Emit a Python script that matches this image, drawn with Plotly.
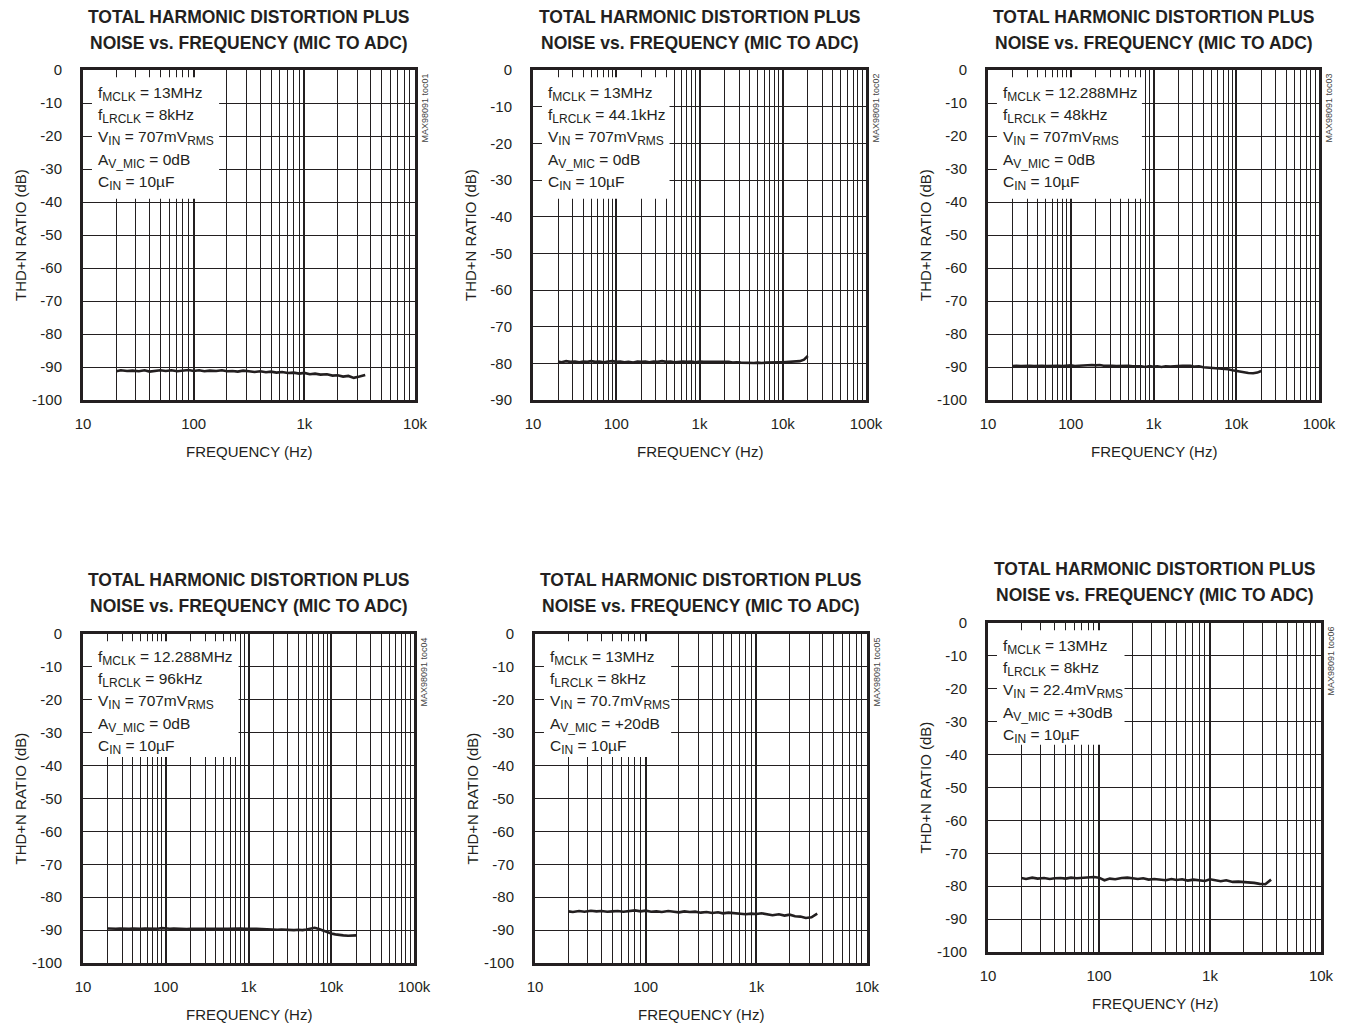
import math
import plotly.graph_objects as go

# ---------------- data ----------------
freq_a = [20, 22, 25, 28, 32, 36, 40, 45, 50, 56,
          63, 71, 80, 90, 100, 112, 125, 140, 160, 180,
          200, 224, 250, 280, 315, 355, 400, 450, 500, 560,
          630, 710, 800, 900, 1000, 1120, 1250, 1400, 1600, 1800,
          2000, 2240, 2500, 2800, 3150, 3550]
freq_tail = [4000, 4500, 5000, 5600, 6300, 7100, 8000, 9000, 10000, 11200,
             12500, 14000, 16000, 18000, 20000]
freq_b = freq_a + freq_tail

thd_1 = [-91.3, -91.0, -91.2, -91.1, -91.3, -91.0, -91.4, -91.1, -91.0, -91.2,
         -91.0, -91.3, -91.1, -90.9, -91.2, -91.0, -91.3, -91.1, -91.2, -91.0,
         -91.3, -91.2, -91.4, -91.1, -91.3, -91.5, -91.3, -91.6, -91.4, -91.7,
         -91.5, -91.8, -91.7, -92.0, -91.8, -92.2, -92.0, -92.3, -92.2, -92.6,
         -92.5, -92.9, -92.7, -93.3, -92.9, -92.4]
thd_2 = [-79.5, -79.7, -79.4, -79.6, -79.5, -79.7, -79.5, -79.6, -79.4, -79.6,
         -79.5, -79.7, -79.5, -79.4, -79.6, -79.5, -79.7, -79.6, -79.8, -79.5,
         -79.6, -79.5, -79.7, -79.5, -79.6, -79.4, -79.6, -79.5, -79.7, -79.6,
         -79.5, -79.6, -79.5, -79.7, -79.5, -79.6, -79.6, -79.5, -79.7, -79.6,
         -79.7, -79.6, -79.8, -79.7, -79.8, -79.9,
         -79.8, -79.9, -79.8, -79.9, -79.8, -79.7, -79.8, -79.7, -79.7, -79.6,
         -79.7, -79.5, -79.4, -79.0, -78.0]
thd_3 = [-89.7, -89.6, -89.7, -89.6, -89.6, -89.7, -89.6, -89.6, -89.7, -89.6,
         -89.7, -89.6, -89.7, -89.6, -89.5, -89.7, -89.6, -89.5, -89.6, -89.4,
         -89.5, -89.4, -89.6, -89.5, -89.6, -89.7, -89.6, -89.7, -89.6, -89.8,
         -89.7, -89.8, -90.0, -89.7, -89.9, -89.8, -90.0, -89.8, -89.9, -89.7,
         -89.7, -89.6, -89.5, -89.6, -89.9, -89.8,
         -90.1, -90.2, -90.3, -90.3, -90.5, -90.5, -90.7, -91.0, -91.2, -91.4,
         -91.7, -91.8, -91.9, -91.7, -91.2]
thd_4 = [-89.5, -89.6, -89.6, -89.5, -89.6, -89.6, -89.5, -89.6, -89.6, -89.5,
         -89.6, -89.5, -89.6, -89.4, -89.6, -89.6, -89.5, -89.6, -89.7, -89.7,
         -89.6, -89.7, -89.6, -89.6, -89.7, -89.6, -89.6, -89.5, -89.6, -89.6,
         -89.5, -89.5, -89.5, -89.6, -89.5, -89.6, -89.6, -89.7, -89.7, -89.8,
         -89.8, -89.9, -89.8, -89.9, -90.0, -90.0,
         -89.9, -90.0, -89.8, -89.5, -89.3, -89.7, -90.2, -90.6, -91.0, -91.3,
         -91.5, -91.6, -91.7, -91.7, -91.6]
thd_5 = [-84.3, -84.5, -84.2, -84.4, -84.1, -84.3, -84.2, -84.4, -84.3, -84.2,
         -84.4, -84.2, -84.0, -84.3, -84.1, -84.4, -84.3, -84.5, -84.2, -84.4,
         -84.6, -84.3, -84.5, -84.4, -84.7, -84.5, -84.8, -84.6, -84.9, -84.7,
         -84.8, -85.0, -85.2, -85.0, -85.1, -84.9, -85.3, -85.5, -85.2, -85.6,
         -85.3, -85.8, -85.9, -86.3, -86.1, -85.0]
thd_6 = [-77.5, -77.8, -77.4, -77.7, -77.5, -77.8, -77.6, -77.5, -77.7, -77.4,
         -77.6, -77.5, -77.3, -77.2, -77.4, -78.2, -77.7, -77.9, -77.5, -77.4,
         -77.6, -77.8, -77.6, -78.0, -77.8, -77.9, -78.2, -77.8, -78.1, -77.9,
         -78.3, -78.0, -78.2, -78.4, -77.9, -78.3, -78.5, -78.2, -78.7, -78.6,
         -78.7, -78.9, -79.0, -79.3, -79.4, -78.0]

freq_ticks = [10, 100, 1000, 10000, 100000]
freq_labels = ["10", "100", "1k", "10k", "100k"]
minor_ticks = [m * d for d in [10, 100, 1000, 10000] for m in range(2, 10)]
db_ticks = [0, -10, -20, -30, -40, -50, -60, -70, -80, -90, -100]
db_labels = ["0", "-10", "-20", "-30", "-40", "-50", "-60", "-70", "-80", "-90", "-100"]


def sub(s):
    return f"<sub><span style='font-size:12px'>{s}</span></sub>"


legend_1 = [f"f{sub('MCLK')} = 13MHz", f"f{sub('LRCLK')} = 8kHz",
            f"V{sub('IN')} = 707mV{sub('RMS')}", f"A{sub('V_MIC')} = 0dB",
            f"C{sub('IN')} = 10µF"]
legend_2 = [f"f{sub('MCLK')} = 13MHz", f"f{sub('LRCLK')} = 44.1kHz",
            f"V{sub('IN')} = 707mV{sub('RMS')}", f"A{sub('V_MIC')} = 0dB",
            f"C{sub('IN')} = 10µF"]
legend_3 = [f"f{sub('MCLK')} = 12.288MHz", f"f{sub('LRCLK')} = 48kHz",
            f"V{sub('IN')} = 707mV{sub('RMS')}", f"A{sub('V_MIC')} = 0dB",
            f"C{sub('IN')} = 10µF"]
legend_4 = [f"f{sub('MCLK')} = 12.288MHz", f"f{sub('LRCLK')} = 96kHz",
            f"V{sub('IN')} = 707mV{sub('RMS')}", f"A{sub('V_MIC')} = 0dB",
            f"C{sub('IN')} = 10µF"]
legend_5 = [f"f{sub('MCLK')} = 13MHz", f"f{sub('LRCLK')} = 8kHz",
            f"V{sub('IN')} = 70.7mV{sub('RMS')}", f"A{sub('V_MIC')} = +20dB",
            f"C{sub('IN')} = 10µF"]
legend_6 = [f"f{sub('MCLK')} = 13MHz", f"f{sub('LRCLK')} = 8kHz",
            f"V{sub('IN')} = 22.4mV{sub('RMS')}", f"A{sub('V_MIC')} = +30dB",
            f"C{sub('IN')} = 10µF"]

codes = ["MAX98091 toc01", "MAX98091 toc02", "MAX98091 toc03",
         "MAX98091 toc04", "MAX98091 toc05", "MAX98091 toc06"]

title_l1 = "TOTAL HARMONIC DISTORTION PLUS"
title_l2 = "NOISE vs. FREQUENCY (MIC TO ADC)"
x_title = "FREQUENCY (Hz)"
y_title = "THD+N RATIO (dB)"

# ---------------- layout geometry ----------------
OFF = 8            # page body margin
W, H = 1346 - OFF, 1025 - OFF
panels = [
    dict(f=freq_a, y=thd_1, leg=legend_1, xmax=10000, ymin=-100, l=83, r=415, t=70, b=400, bw=0.41, bh=0.61, ty=(17, 43)),
    dict(f=freq_b, y=thd_2, leg=legend_2, xmax=100000, ymin=-90, l=533, r=866, t=70, b=400, bw=0.41, bh=0.61, ty=(17, 43)),
    dict(f=freq_b, y=thd_3, leg=legend_3, xmax=100000, ymin=-100, l=988, r=1319, t=70, b=400, bw=0.465, bh=0.61, ty=(17, 43)),
    dict(f=freq_b, y=thd_4, leg=legend_4, xmax=100000, ymin=-100, l=83, r=414, t=634, b=963, bw=0.47, bh=0.626, ty=(580, 606)),
    dict(f=freq_a, y=thd_5, leg=legend_5, xmax=10000, ymin=-100, l=535, r=867, t=634, b=963, bw=0.41, bh=0.626, ty=(580, 606)),
    dict(f=freq_a, y=thd_6, leg=legend_6, xmax=10000, ymin=-100, l=988, r=1321, t=623, b=952, bw=0.41, bh=0.63, ty=(569, 595)),
]

FONT = "Liberation Sans, Arial, sans-serif"
INK = "#231f20"
fig = go.Figure()
layout = dict(width=W, height=H, margin=dict(l=0, r=0, t=0, b=0, pad=0),
              paper_bgcolor="white", plot_bgcolor="white", showlegend=False,
              template="none",
              font=dict(family=FONT, color=INK, size=15))
annotations = []
shapes = []

for i, p in enumerate(panels):
    n = i + 1
    xa = "x" if n == 1 else f"x{n}"
    ya = "y" if n == 1 else f"y{n}"
    xkey = "xaxis" if n == 1 else f"xaxis{n}"
    ykey = "yaxis" if n == 1 else f"yaxis{n}"
    xd = [(p["l"] - OFF) / W, (p["r"] - OFF) / W]
    yd = [1 - (p["b"] - OFF) / H, 1 - (p["t"] - OFF) / H]
    layout[xkey] = dict(
        type="log", domain=xd, anchor=ya, range=[1, math.log10(p["xmax"])],
        tickmode="array",
        tickvals=[v for v in freq_ticks if v <= p["xmax"]],
        ticktext=[freq_labels[k] for k, v in enumerate(freq_ticks) if v <= p["xmax"]],
        showgrid=True, gridcolor=INK, gridwidth=1.6,
        minor=dict(tickmode="array", tickvals=[v for v in minor_ticks if v < p["xmax"]],
                   showgrid=True, gridcolor=INK, gridwidth=1, ticks=""),
        showline=True, linecolor=INK, linewidth=3, mirror=True,
        ticks="", ticklabelstandoff=8, tickfont=dict(size=15, color=INK),
        zeroline=False, automargin=False, fixedrange=True,
    )
    layout[ykey] = dict(
        domain=yd, anchor=xa, range=[p["ymin"], 0],
        tickmode="array",
        tickvals=[v for v in db_ticks if v >= p["ymin"]],
        ticktext=[db_labels[k] for k, v in enumerate(db_ticks) if v >= p["ymin"]],
        showgrid=True, gridcolor=INK, gridwidth=1,
        showline=True, linecolor=INK, linewidth=3, mirror=True,
        ticks="", ticklabelstandoff=15, tickfont=dict(size=15, color=INK),
        zeroline=False, automargin=False, fixedrange=True,
    )
    fig.add_trace(go.Scatter(x=p["f"], y=p["y"], mode="lines", xaxis=xa, yaxis=ya,
                             line=dict(color=INK, width=2.6)))
    xdom = f"{xa} domain"
    ydom = f"{ya} domain"
    # white box behind the condition text
    shapes.append(dict(type="rect", xref=xdom, yref=ydom, x0=0.027, x1=p["bw"],
                       y0=p["bh"], y1=0.978,
                       fillcolor="white", line=dict(width=0), layer="above"))
    # condition text
    ph = p["b"] - p["t"]
    for k, line in enumerate(p["leg"]):
        annotations.append(dict(xref=xdom, yref=ydom, x=0.04, y=1 - (24 + 22.2 * k) / ph,
                                text=line, showarrow=False, xanchor="left", yanchor="middle",
                                font=dict(size=15.5, family=FONT, color=INK)))
    # titles
    for ty, txt in zip(p["ty"], [title_l1, title_l2]):
        annotations.append(dict(xref=xdom, yref="paper", x=0.5, y=1 - (ty - OFF) / H, text=f"<b>{txt}</b>",
                                showarrow=False, xanchor="center", yanchor="middle",
                                font=dict(size=17.5, family=FONT, color=INK)))
    # axis titles
    annotations.append(dict(xref=xdom, yref=ydom, x=0.5, y=0, yshift=-51, text=x_title,
                            showarrow=False, xanchor="center", yanchor="middle",
                            font=dict(size=15, family=FONT, color=INK)))
    annotations.append(dict(xref=xdom, yref=ydom, x=0, xshift=-63, y=0.5, text=y_title,
                            textangle=-90, showarrow=False, xanchor="center", yanchor="middle",
                            font=dict(size=15, family=FONT, color=INK)))
    # figure code
    annotations.append(dict(xref=xdom, yref=ydom, x=1, xshift=9, y=1, yshift=-2, text=codes[i],
                            textangle=-90, showarrow=False, xanchor="center", yanchor="top",
                            font=dict(size=9, family=FONT, color="#444444")))

layout["annotations"] = annotations
layout["shapes"] = shapes
fig.update_layout(**layout)
fig.write_html("out.html")
